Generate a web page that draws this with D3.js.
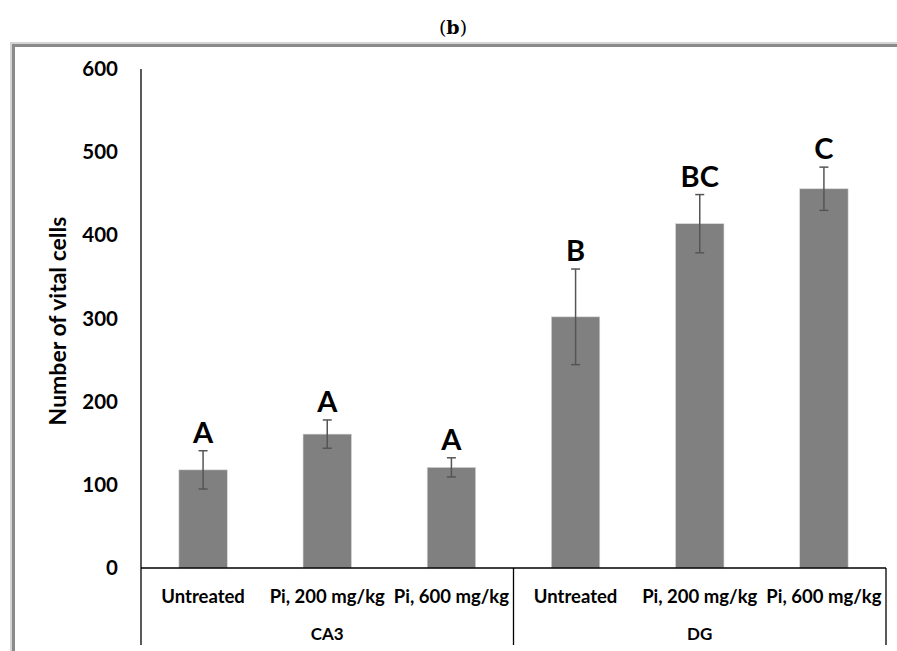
<!DOCTYPE html>
<html>
<head>
<meta charset="utf-8">
<script src="https://cdn.jsdelivr.net/npm/d3@7"></script>
<style>
  body { margin: 0; background: #fff; }
  svg { display: block; font-family: Lato, "Open Sans", sans-serif; }
</style>
</head>
<body>
<svg></svg>
<script>
const size = {w: 897, h: 651};
const margin = {t: 69, r: 11, b: 83, l: 141};

// chart data
const groups = ['CA3', 'DG'];
const treatments = ['Untreated', 'Pi, 200 mg/kg', 'Pi, 600 mg/kg'];
const means = [118, 161, 121, 302, 414, 456];
const errors = [23, 17, 11.5, 57.5, 35, 26];
const letters = ['A', 'A', 'A', 'B', 'BC', 'C'];
const yTicks = [0, 100, 200, 300, 400, 500, 600];

const svg = d3.select('svg')
    .attr('width', size.w)
    .attr('height', size.h);

// outer frame (double grey line, top and left)
svg.append('line').attr('x1', 10).attr('x2', size.w).attr('y1', 43).attr('y2', 43)
    .attr('stroke', '#d4d4d4').attr('stroke-width', 2);
svg.append('line').attr('x1', 12).attr('x2', size.w).attr('y1', 45.5).attr('y2', 45.5)
    .attr('stroke', '#8a8a8a').attr('stroke-width', 3);
svg.append('line').attr('x1', 11).attr('x2', 11).attr('y1', 42).attr('y2', size.h)
    .attr('stroke', '#d4d4d4').attr('stroke-width', 2);
svg.append('line').attr('x1', 13.5).attr('x2', 13.5).attr('y1', 44).attr('y2', size.h)
    .attr('stroke', '#8a8a8a').attr('stroke-width', 3);

// title
svg.append('text')
    .attr('x', 453).attr('y', 34)
    .attr('text-anchor', 'middle')
    .style('font-family', '"DejaVu Serif", "Liberation Serif", serif')
    .style('font-size', '19px')
    .html('(<tspan font-weight="bold">b</tspan>)');

// categories combine group + treatment
let cats = [];
groups.forEach(g => treatments.forEach(t => cats.push({g: g, t: t})));
cats.forEach((c, i) => {
    c.key = i;
    c.mean = means[i];
    c.err = errors[i];
    c.letter = letters[i];
});

const x = d3.scaleBand()
    .domain(cats.map(d => d.key))
    .range([margin.l, size.w - margin.r])
    .paddingInner(0.61)
    .paddingOuter(0.305);

const y = d3.scaleLinear()
    .domain([0, 600])
    .range([size.h - margin.b, margin.t]);

const baseY = y(0);
const step = x.step();

// bars
svg.append('g').selectAll('rect')
    .data(cats)
    .join('rect')
    .attr('x', d => x(d.key))
    .attr('width', x.bandwidth())
    .attr('y', d => y(d.mean))
    .attr('height', d => baseY - y(d.mean))
    .attr('fill', '#808080')
    .attr('stroke', '#d8d8d8')
    .attr('stroke-width', 0.6);

// error bars
const errG = svg.append('g').attr('stroke', '#555').attr('stroke-width', 1.5);
cats.forEach(d => {
    const cx = x(d.key) + x.bandwidth() / 2;
    errG.append('line').attr('x1', cx).attr('x2', cx)
        .attr('y1', y(d.mean + d.err)).attr('y2', y(d.mean - d.err));
    [d.mean + d.err, d.mean - d.err].forEach(v => {
        errG.append('line').attr('x1', cx - 4.5).attr('x2', cx + 4.5)
            .attr('y1', y(v)).attr('y2', y(v));
    });
});

// significance letters
svg.append('g').selectAll('text')
    .data(cats)
    .join('text')
    .attr('x', d => x(d.key) + x.bandwidth() / 2)
    .attr('y', d => y(d.mean + d.err) - 8)
    .attr('text-anchor', 'middle')
    .style('font-size', '29px')
    .style('font-weight', 'bold')
    .text(d => d.letter);

// y axis
const yAxis = d3.axisLeft(y).tickValues(yTicks).tickSize(0).tickPadding(23);
const yG = svg.append('g')
    .attr('transform', `translate(${margin.l},0)`)
    .call(yAxis);
yG.select('.domain').remove();
yG.selectAll('text')
    .style('font-size', '20.5px')
    .style('font-weight', 'bold')
    .style('font-family', 'Lato, sans-serif')
    .attr('fill', '#000');

// axis lines
const axisG = svg.append('g').attr('stroke', '#000').attr('stroke-width', 1.3);
axisG.append('line').attr('x1', margin.l).attr('x2', margin.l)
    .attr('y1', margin.t).attr('y2', 645);
axisG.append('line').attr('x1', margin.l).attr('x2', size.w - margin.r)
    .attr('y1', baseY).attr('y2', baseY);
// group dividers below the axis
[3, 6].forEach(i => {
    const xx = margin.l + step * i;
    axisG.append('line').attr('x1', xx).attr('x2', xx)
        .attr('y1', baseY).attr('y2', 645);
});

// treatment labels
svg.append('g').selectAll('text')
    .data(cats)
    .join('text')
    .attr('x', d => x(d.key) + x.bandwidth() / 2)
    .attr('y', 603)
    .attr('text-anchor', 'middle')
    .style('font-size', '18.5px')
    .style('font-weight', 'bold')
    .text(d => d.t);

// group labels
svg.append('g').selectAll('text')
    .data(groups)
    .join('text')
    .attr('x', (d, i) => margin.l + step * (i * 3 + 1.5))
    .attr('y', 640)
    .attr('text-anchor', 'middle')
    .style('font-size', '17px')
    .style('font-weight', 'bold')
    .text(d => d);

// y title
svg.append('text')
    .attr('transform', `translate(66,${321}) rotate(-90)`)
    .attr('text-anchor', 'middle')
    .style('font-size', '23px')
    .style('font-weight', 'bold')
    .text('Number of vital cells');
</script>
</body>
</html>
